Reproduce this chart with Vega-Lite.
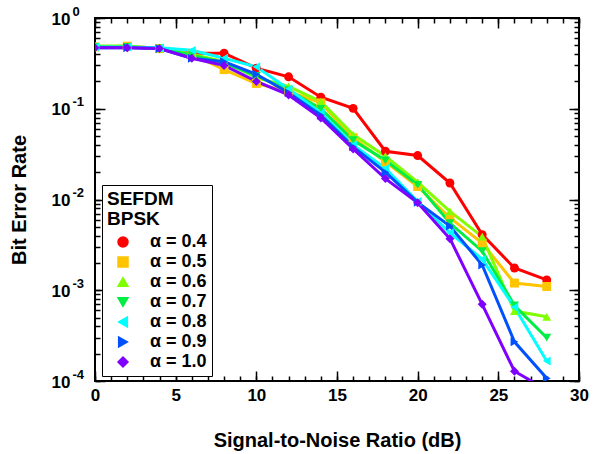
{
  "$schema": "https://vega.github.io/schema/vega-lite/v6.json",
  "width": 484,
  "height": 363,
  "autosize": {"type": "none"},
  "padding": {"left": 95, "top": 18, "right": 22, "bottom": 73},
  "background": "white",
  "datasets": {
    "ber": [
      {"a": "α = 0.4", "snr": 0, "ber": 0.48}, {"a": "α = 0.4", "snr": 2, "ber": 0.48}, {"a": "α = 0.4", "snr": 4, "ber": 0.46}, {"a": "α = 0.4", "snr": 6, "ber": 0.41}, {"a": "α = 0.4", "snr": 8, "ber": 0.41}, {"a": "α = 0.4", "snr": 10, "ber": 0.28}, {"a": "α = 0.4", "snr": 12, "ber": 0.225}, {"a": "α = 0.4", "snr": 14, "ber": 0.134}, {"a": "α = 0.4", "snr": 16, "ber": 0.101}, {"a": "α = 0.4", "snr": 18, "ber": 0.034}, {"a": "α = 0.4", "snr": 20, "ber": 0.0305}, {"a": "α = 0.4", "snr": 22, "ber": 0.0152}, {"a": "α = 0.4", "snr": 24, "ber": 0.0041}, {"a": "α = 0.4", "snr": 26, "ber": 0.00176}, {"a": "α = 0.4", "snr": 28, "ber": 0.0013},
      {"a": "α = 0.5", "snr": 0, "ber": 0.48}, {"a": "α = 0.5", "snr": 2, "ber": 0.49}, {"a": "α = 0.5", "snr": 4, "ber": 0.46}, {"a": "α = 0.5", "snr": 6, "ber": 0.40}, {"a": "α = 0.5", "snr": 8, "ber": 0.27}, {"a": "α = 0.5", "snr": 10, "ber": 0.19}, {"a": "α = 0.5", "snr": 12, "ber": 0.155}, {"a": "α = 0.5", "snr": 14, "ber": 0.116}, {"a": "α = 0.5", "snr": 16, "ber": 0.048}, {"a": "α = 0.5", "snr": 18, "ber": 0.026}, {"a": "α = 0.5", "snr": 20, "ber": 0.0139}, {"a": "α = 0.5", "snr": 22, "ber": 0.0063}, {"a": "α = 0.5", "snr": 24, "ber": 0.0033}, {"a": "α = 0.5", "snr": 26, "ber": 0.0012}, {"a": "α = 0.5", "snr": 28, "ber": 0.0011},
      {"a": "α = 0.6", "snr": 0, "ber": 0.49}, {"a": "α = 0.6", "snr": 2, "ber": 0.49}, {"a": "α = 0.6", "snr": 4, "ber": 0.46}, {"a": "α = 0.6", "snr": 6, "ber": 0.40}, {"a": "α = 0.6", "snr": 8, "ber": 0.33}, {"a": "α = 0.6", "snr": 10, "ber": 0.22}, {"a": "α = 0.6", "snr": 12, "ber": 0.176}, {"a": "α = 0.6", "snr": 14, "ber": 0.12}, {"a": "α = 0.6", "snr": 16, "ber": 0.052}, {"a": "α = 0.6", "snr": 18, "ber": 0.030}, {"a": "α = 0.6", "snr": 20, "ber": 0.0155}, {"a": "α = 0.6", "snr": 22, "ber": 0.0074}, {"a": "α = 0.6", "snr": 24, "ber": 0.0039}, {"a": "α = 0.6", "snr": 26, "ber": 0.00059}, {"a": "α = 0.6", "snr": 28, "ber": 0.00051},
      {"a": "α = 0.7", "snr": 0, "ber": 0.48}, {"a": "α = 0.7", "snr": 2, "ber": 0.48}, {"a": "α = 0.7", "snr": 4, "ber": 0.46}, {"a": "α = 0.7", "snr": 6, "ber": 0.39}, {"a": "α = 0.7", "snr": 8, "ber": 0.32}, {"a": "α = 0.7", "snr": 10, "ber": 0.23}, {"a": "α = 0.7", "snr": 12, "ber": 0.16}, {"a": "α = 0.7", "snr": 14, "ber": 0.10}, {"a": "α = 0.7", "snr": 16, "ber": 0.045}, {"a": "α = 0.7", "snr": 18, "ber": 0.027}, {"a": "α = 0.7", "snr": 20, "ber": 0.0145}, {"a": "α = 0.7", "snr": 22, "ber": 0.0055}, {"a": "α = 0.7", "snr": 24, "ber": 0.0027}, {"a": "α = 0.7", "snr": 26, "ber": 0.00068}, {"a": "α = 0.7", "snr": 28, "ber": 0.0003},
      {"a": "α = 0.8", "snr": 0, "ber": 0.48}, {"a": "α = 0.8", "snr": 2, "ber": 0.48}, {"a": "α = 0.8", "snr": 4, "ber": 0.47}, {"a": "α = 0.8", "snr": 6, "ber": 0.44}, {"a": "α = 0.8", "snr": 8, "ber": 0.36}, {"a": "α = 0.8", "snr": 10, "ber": 0.29}, {"a": "α = 0.8", "snr": 12, "ber": 0.165}, {"a": "α = 0.8", "snr": 14, "ber": 0.09}, {"a": "α = 0.8", "snr": 16, "ber": 0.04}, {"a": "α = 0.8", "snr": 18, "ber": 0.022}, {"a": "α = 0.8", "snr": 20, "ber": 0.0095}, {"a": "α = 0.8", "snr": 22, "ber": 0.0043}, {"a": "α = 0.8", "snr": 24, "ber": 0.0022}, {"a": "α = 0.8", "snr": 26, "ber": 0.00065}, {"a": "α = 0.8", "snr": 28, "ber": 0.000166},
      {"a": "α = 0.9", "snr": 0, "ber": 0.47}, {"a": "α = 0.9", "snr": 2, "ber": 0.47}, {"a": "α = 0.9", "snr": 4, "ber": 0.46}, {"a": "α = 0.9", "snr": 6, "ber": 0.36}, {"a": "α = 0.9", "snr": 8, "ber": 0.33}, {"a": "α = 0.9", "snr": 10, "ber": 0.24}, {"a": "α = 0.9", "snr": 12, "ber": 0.15}, {"a": "α = 0.9", "snr": 14, "ber": 0.085}, {"a": "α = 0.9", "snr": 16, "ber": 0.038}, {"a": "α = 0.9", "snr": 18, "ber": 0.020}, {"a": "α = 0.9", "snr": 20, "ber": 0.0093}, {"a": "α = 0.9", "snr": 22, "ber": 0.0051}, {"a": "α = 0.9", "snr": 24, "ber": 0.0019}, {"a": "α = 0.9", "snr": 26, "ber": 0.00027}, {"a": "α = 0.9", "snr": 28, "ber": 0.000107},
      {"a": "α = 1.0", "snr": 0, "ber": 0.47}, {"a": "α = 1.0", "snr": 2, "ber": 0.47}, {"a": "α = 1.0", "snr": 4, "ber": 0.46}, {"a": "α = 1.0", "snr": 6, "ber": 0.36}, {"a": "α = 1.0", "snr": 8, "ber": 0.30}, {"a": "α = 1.0", "snr": 10, "ber": 0.20}, {"a": "α = 1.0", "snr": 12, "ber": 0.142}, {"a": "α = 1.0", "snr": 14, "ber": 0.079}, {"a": "α = 1.0", "snr": 16, "ber": 0.036}, {"a": "α = 1.0", "snr": 18, "ber": 0.017}, {"a": "α = 1.0", "snr": 20, "ber": 0.0092}, {"a": "α = 1.0", "snr": 22, "ber": 0.0037}, {"a": "α = 1.0", "snr": 24, "ber": 0.0007}, {"a": "α = 1.0", "snr": 26, "ber": 0.000128}, {"a": "α = 1.0", "snr": 28, "ber": 0.00008}
    ]
  },
  "data": {"name": "ber"},
  "layer": [
    {
      "mark": {"type": "line", "strokeWidth": 3, "clip": true},
      "encoding": {
        "x": {"field": "snr", "type": "quantitative", "scale": {"domain": [0, 30], "nice": false, "zero": false},
          "axis": {"orient": "bottom", "values": [0, 5, 10, 15, 20, 25, 30], "ticks": false, "labelPadding": 6, "title": "Signal-to-Noise Ratio (dB)", "titlePadding": 27, "domain": false, "grid": false}},
        "y": {"field": "ber", "type": "quantitative", "scale": {"type": "log", "domain": [0.0001, 1], "nice": false},
          "axis": {"orient": "left", "values": [0.0001, 0.001, 0.01, 0.1, 1], "labelExpr": "'10'", "ticks": false, "labelPadding": 25, "labelOffset": 1, "title": "Bit Error Rate", "titlePadding": 22, "domain": false, "grid": false}},
        "color": {"field": "a", "type": "nominal",
          "scale": {"domain": ["α = 0.4", "α = 0.5", "α = 0.6", "α = 0.7", "α = 0.8", "α = 0.9", "α = 1.0"], "range": ["#ff0000", "#ffc400", "#80ff00", "#00ee44", "#00ffff", "#0050ff", "#8000ff"]},
          "legend": {
            "orient": "none", "legendX": 7, "legendY": 167,
            "title": ["SEFDM", "BPSK"],
            "symbolType": "circle",
            "rowPadding": 2
          }}
      }
    },
    {
      "mark": {"type": "point", "filled": true, "size": 80, "opacity": 1, "clip": true},
      "encoding": {
        "x": {"field": "snr", "type": "quantitative", "scale": {"domain": [0, 30], "nice": false, "zero": false},
          "axis": {"orient": "bottom", "tickCount": 6, "offset": -10, "ticks": true, "tickSize": 10, "tickColor": "black", "tickWidth": 1.5, "labels": false, "domain": false, "grid": false, "title": null}},
        "y": {"field": "ber", "type": "quantitative", "scale": {"type": "log", "domain": [0.0001, 1], "nice": false},
          "axis": {"orient": "left", "tickCount": 4, "offset": -10, "ticks": true, "tickSize": 10, "tickColor": "black", "tickWidth": 1.5, "labels": false, "domain": false, "grid": false, "title": null}},
        "color": {"field": "a", "type": "nominal",
          "scale": {"domain": ["α = 0.4", "α = 0.5", "α = 0.6", "α = 0.7", "α = 0.8", "α = 0.9", "α = 1.0"], "range": ["#ff0000", "#ffc400", "#80ff00", "#00ee44", "#00ffff", "#0050ff", "#8000ff"]}},
        "shape": {"field": "a", "type": "nominal", "legend": null,
          "scale": {"domain": ["α = 0.4", "α = 0.5", "α = 0.6", "α = 0.7", "α = 0.8", "α = 0.9", "α = 1.0"], "range": ["circle", "square", "triangle-up", "triangle-down", "triangle-left", "triangle-right", "diamond"]}}
      }
    },
    {
      "mark": {"type": "point", "opacity": 0},
      "encoding": {
        "x": {"field": "snr", "type": "quantitative", "scale": {"domain": [0, 30], "nice": false, "zero": false},
          "axis": {"orient": "bottom", "tickCount": 30, "offset": -5, "ticks": true, "tickSize": 5, "tickColor": "black", "tickWidth": 1.5, "labels": false, "domain": false, "grid": false, "title": null}},
        "y": {"field": "ber", "type": "quantitative", "scale": {"type": "log", "domain": [0.0001, 1], "nice": false},
          "axis": {"orient": "left", "tickCount": 50, "offset": -5, "ticks": true, "tickSize": 5, "tickColor": "black", "tickWidth": 1.5, "labels": false, "domain": false, "grid": false, "title": null}}
      }
    },
    {
      "mark": {"type": "point", "opacity": 0},
      "encoding": {
        "x": {"field": "snr", "type": "quantitative", "scale": {"domain": [0, 30], "nice": false, "zero": false},
          "axis": {"orient": "top", "tickCount": 6, "offset": -10, "ticks": true, "tickSize": 10, "tickColor": "black", "tickWidth": 1.5, "labels": false, "domain": false, "grid": false, "title": null}},
        "y": {"field": "ber", "type": "quantitative", "scale": {"type": "log", "domain": [0.0001, 1], "nice": false},
          "axis": {"orient": "right", "tickCount": 4, "offset": -10, "ticks": true, "tickSize": 10, "tickColor": "black", "tickWidth": 1.5, "labels": false, "domain": false, "grid": false, "title": null}}
      }
    },
    {
      "mark": {"type": "point", "opacity": 0},
      "encoding": {
        "x": {"field": "snr", "type": "quantitative", "scale": {"domain": [0, 30], "nice": false, "zero": false},
          "axis": {"orient": "top", "tickCount": 30, "offset": -5, "ticks": true, "tickSize": 5, "tickColor": "black", "tickWidth": 1.5, "labels": false, "domain": false, "grid": false, "title": null}},
        "y": {"field": "ber", "type": "quantitative", "scale": {"type": "log", "domain": [0.0001, 1], "nice": false},
          "axis": {"orient": "right", "tickCount": 50, "offset": -5, "ticks": true, "tickSize": 5, "tickColor": "black", "tickWidth": 1.5, "labels": false, "domain": false, "grid": false, "title": null}}
      }
    },
    {
      "mark": {"type": "point", "opacity": 0},
      "encoding": {
        "x": {"field": "snr", "type": "quantitative", "scale": {"domain": [0, 30], "nice": false, "zero": false}, "axis": null},
        "y": {"field": "ber", "type": "quantitative", "scale": {"type": "log", "domain": [0.0001, 1], "nice": false},
          "axis": {"orient": "left", "values": [0.0001, 0.001, 0.01, 0.1, 1], "labelExpr": "'' + round(log(datum.value) / LN10)", "ticks": false, "labelPadding": 23, "labelAlign": "left", "labelFontSize": 13, "labelOffset": -7, "domain": false, "grid": false, "title": null}}
      }
    }
  ],
  "resolve": {"axis": {"x": "independent", "y": "independent"}},
  "config": {
    "view": {"stroke": "black", "strokeWidth": 2},
    "axis": {
      "labelFont": "Liberation Sans", "labelFontSize": 17, "labelFontWeight": "bold", "labelColor": "black",
      "titleFont": "Liberation Sans", "titleFontSize": 20, "titleFontWeight": "bold", "titleColor": "black",
      "labelFlush": false, "labelOverlap": false
    },
    "legend": {
      "titleFont": "Liberation Sans", "titleFontSize": 19, "titleFontWeight": "bold", "titleColor": "black", "titleLineHeight": 20, "titlePadding": 4,
      "labelFont": "Liberation Sans", "labelFontSize": 18, "labelFontWeight": "bold", "labelColor": "black",
      "symbolSize": 100, "symbolOffset": 7, "labelOffset": 18,
      "padding": 5, "strokeColor": "black", "fillColor": "white"
    }
  }
}
